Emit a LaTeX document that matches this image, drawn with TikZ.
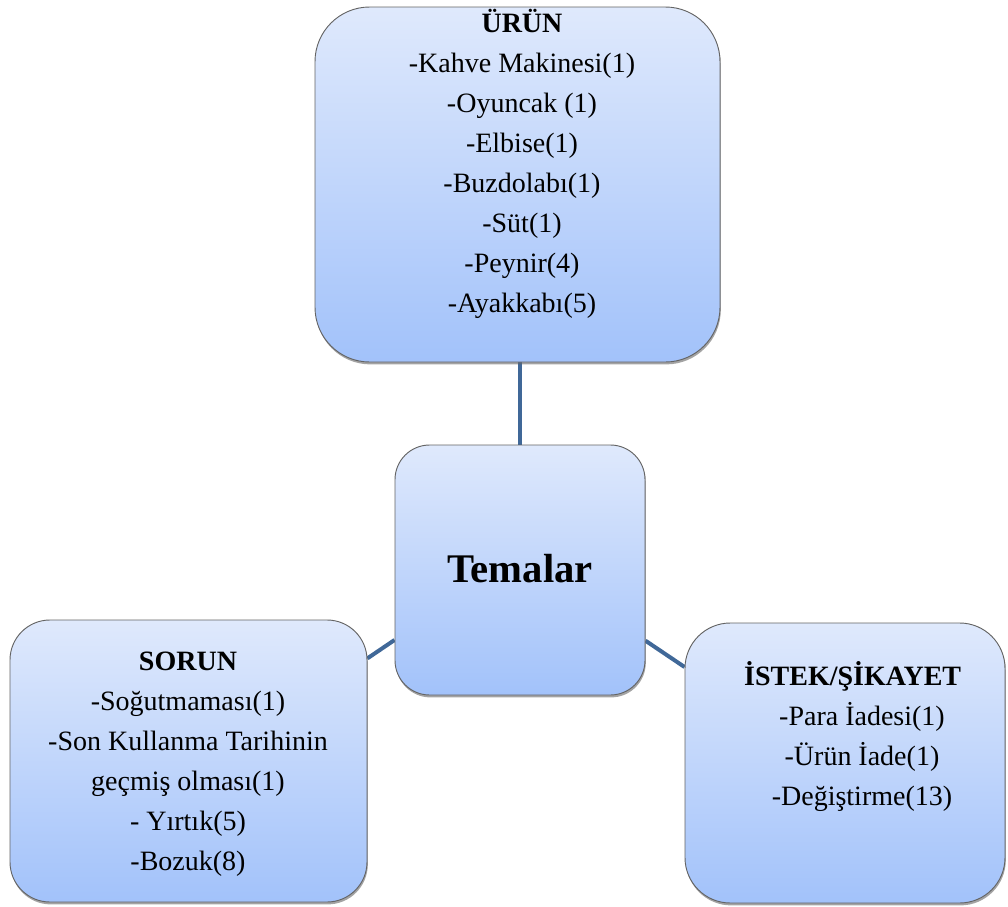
\documentclass[tikz,border=0pt]{standalone}
\usepackage{fontspec}
\setmainfont{Liberation Serif}
\usetikzlibrary{shadows,backgrounds}
\definecolor{boxtop}{RGB}{223,233,252}
\definecolor{boxbot}{RGB}{162,194,250}
\definecolor{boxline}{RGB}{100,100,100}
\definecolor{linkcol}{RGB}{64,104,152}
\tikzset{
  tbox/.style={rectangle, draw=boxline, line width=0.7pt, top color=boxtop, bottom color=boxbot,
    drop shadow={shadow xshift=0.6pt, shadow yshift=-1.8pt, opacity=0.6, fill=black!60}},
  link/.style={draw=linkcol, line width=3pt},
  txt/.style={align=center, inner sep=0pt, anchor=base, font=\fontsize{21}{30}\selectfont}
}
\begin{document}
\begin{tikzpicture}[x=0.75pt,y=-0.75pt]
\useasboundingbox (0,0) rectangle (1008,907);
\node[tbox, minimum width=303.75pt, minimum height=266.25pt, rounded corners=41pt] (urun) at (517.5,184.5) {};
\node[tbox, minimum width=187.5pt, minimum height=187.5pt, rounded corners=26pt] (tema) at (520,570) {};
\node[tbox, minimum width=267.75pt, minimum height=211.5pt, rounded corners=30pt] (sorun) at (188.5,761) {};
\node[tbox, minimum width=240pt, minimum height=210pt, rounded corners=34pt] (istek) at (845,763) {};
\begin{scope}[on background layer]
\draw[link] (tema.north) -- (tema.north |- urun.south);
\draw[link] ([yshift=-52.5pt]tema.west) -- ([yshift=77pt]sorun.east);
\draw[link] ([yshift=-53pt]tema.east) -- ([yshift=72pt]istek.west);
\end{scope}
\node[txt] (urunt) at (522,312) {\textbf{ÜRÜN}\\-Kahve Makinesi(1)\\-Oyuncak (1)\\-Elbise(1)\\-Buzdolabı(1)\\-Süt(1)\\-Peynir(4)\\-Ayakkabı(5)};
\node[txt, font=\fontsize{30.5}{36}\selectfont\bfseries] (temat) at (520,582) {Temalar};
\node[txt] (sorunt) at (188,870) {\textbf{SORUN}\\-Soğutmaması(1)\\-Son Kullanma Tarihinin\\geçmiş olması(1)\\- Yırtık(5)\\-Bozuk(8)};
\node[txt] (istekt) at (862,805) {\textbf{İSTEK/ŞİKAYET}\hspace*{14pt}\\-Para İadesi(1)\\-Ürün İade(1)\\-Değiştirme(13)};
\end{tikzpicture}
\end{document}
